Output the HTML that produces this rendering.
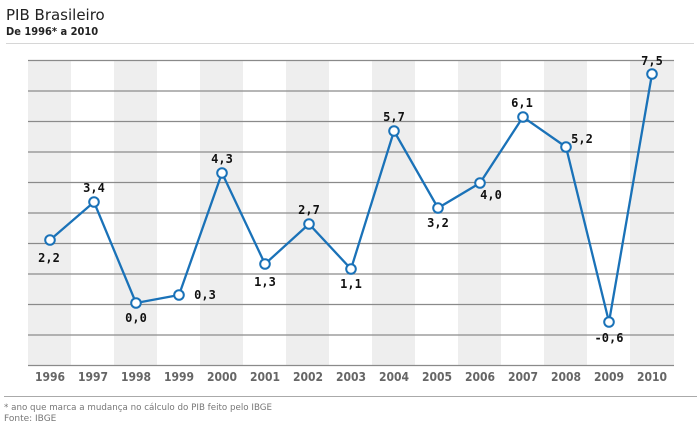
<!DOCTYPE html>
<html><head><meta charset="utf-8"><style>
body{margin:0;background:#fff;width:700px;height:430px;overflow:hidden;font-family:"DejaVu Sans","Liberation Sans",sans-serif}
</style></head><body>
<svg width="700" height="430" xmlns="http://www.w3.org/2000/svg" font-family="DejaVu Sans, Liberation Sans, sans-serif">
<text x="6" y="20" font-size="15" fill="#222">PIB Brasileiro</text>
<text x="6" y="35" font-size="11" fill="#222" font-weight="bold" font-family="DejaVu Sans Condensed, DejaVu Sans, sans-serif">De 1996* a 2010</text>
<line x1="6" y1="43.5" x2="694" y2="43.5" stroke="#d6d6d6" stroke-width="1"/>
<g fill="#eeeeee">
<rect x="28" y="60" width="43" height="305"/>
<rect x="114" y="60" width="43" height="305"/>
<rect x="200" y="60" width="43" height="305"/>
<rect x="286" y="60" width="43" height="305"/>
<rect x="372" y="60" width="43" height="305"/>
<rect x="458" y="60" width="43" height="305"/>
<rect x="544" y="60" width="43" height="305"/>
<rect x="630" y="60" width="44" height="305"/>
</g>
<g stroke="#8a8a8a" stroke-width="1.2">
<line x1="28" x2="674" y1="60.5" y2="60.5"/>
<line x1="28" x2="674" y1="91" y2="91"/>
<line x1="28" x2="674" y1="121.5" y2="121.5"/>
<line x1="28" x2="674" y1="152" y2="152"/>
<line x1="28" x2="674" y1="182.5" y2="182.5"/>
<line x1="28" x2="674" y1="213" y2="213"/>
<line x1="28" x2="674" y1="243.5" y2="243.5"/>
<line x1="28" x2="674" y1="274" y2="274"/>
<line x1="28" x2="674" y1="304.5" y2="304.5"/>
<line x1="28" x2="674" y1="335" y2="335"/>
<line x1="28" x2="674" y1="365.5" y2="365.5"/>
</g>
<polyline fill="none" stroke="#1a72b8" stroke-width="2.3" points="50,240 94,202 136,303 179,295 222,173 265,264 309,224 351,269 394,131 438,208 480,183 523,117 566,147 609,322 652,74"/>
<g fill="#fff" stroke="#1a72b8" stroke-width="2">
<circle cx="50" cy="240" r="4.8"/><circle cx="94" cy="202" r="4.8"/><circle cx="136" cy="303" r="4.8"/><circle cx="179" cy="295" r="4.8"/><circle cx="222" cy="173" r="4.8"/><circle cx="265" cy="264" r="4.8"/><circle cx="309" cy="224" r="4.8"/><circle cx="351" cy="269" r="4.8"/><circle cx="394" cy="131" r="4.8"/><circle cx="438" cy="208" r="4.8"/><circle cx="480" cy="183" r="4.8"/><circle cx="523" cy="117" r="4.8"/><circle cx="566" cy="147" r="4.8"/><circle cx="609" cy="322" r="4.8"/><circle cx="652" cy="74" r="4.8"/>
</g>
<g font-size="12" font-weight="bold" fill="#111" text-anchor="middle" font-family="DejaVu Sans Mono, Liberation Mono, monospace">
<text x="49" y="262">2,2</text>
<text x="94" y="192">3,4</text>
<text x="136" y="322">0,0</text>
<text x="205" y="299">0,3</text>
<text x="222" y="163">4,3</text>
<text x="265" y="286">1,3</text>
<text x="309" y="214">2,7</text>
<text x="351" y="288">1,1</text>
<text x="394" y="121">5,7</text>
<text x="438" y="227">3,2</text>
<text x="491" y="199">4,0</text>
<text x="522" y="107">6,1</text>
<text x="582" y="143">5,2</text>
<text x="609" y="342">-0,6</text>
<text x="652" y="65">7,5</text>
</g>
<g font-size="12" font-weight="bold" fill="#666" text-anchor="middle" font-family="DejaVu Sans Condensed, DejaVu Sans, sans-serif">
<text x="50" y="381">1996</text><text x="93" y="381">1997</text><text x="136" y="381">1998</text><text x="179" y="381">1999</text><text x="222" y="381">2000</text><text x="265" y="381">2001</text><text x="308" y="381">2002</text><text x="351" y="381">2003</text><text x="394" y="381">2004</text><text x="437" y="381">2005</text><text x="480" y="381">2006</text><text x="523" y="381">2007</text><text x="566" y="381">2008</text><text x="609" y="381">2009</text><text x="652" y="381">2010</text>
</g>
<line x1="4" y1="396.5" x2="697" y2="396.5" stroke="#aaa" stroke-width="1"/>
<text x="4" y="410" font-size="9" fill="#777" textLength="268" lengthAdjust="spacingAndGlyphs">* ano que marca a mudança no cálculo do PIB feito pelo IBGE</text>
<text x="4" y="421" font-size="9" fill="#777">Fonte: IBGE</text>
</svg>
</body></html>
